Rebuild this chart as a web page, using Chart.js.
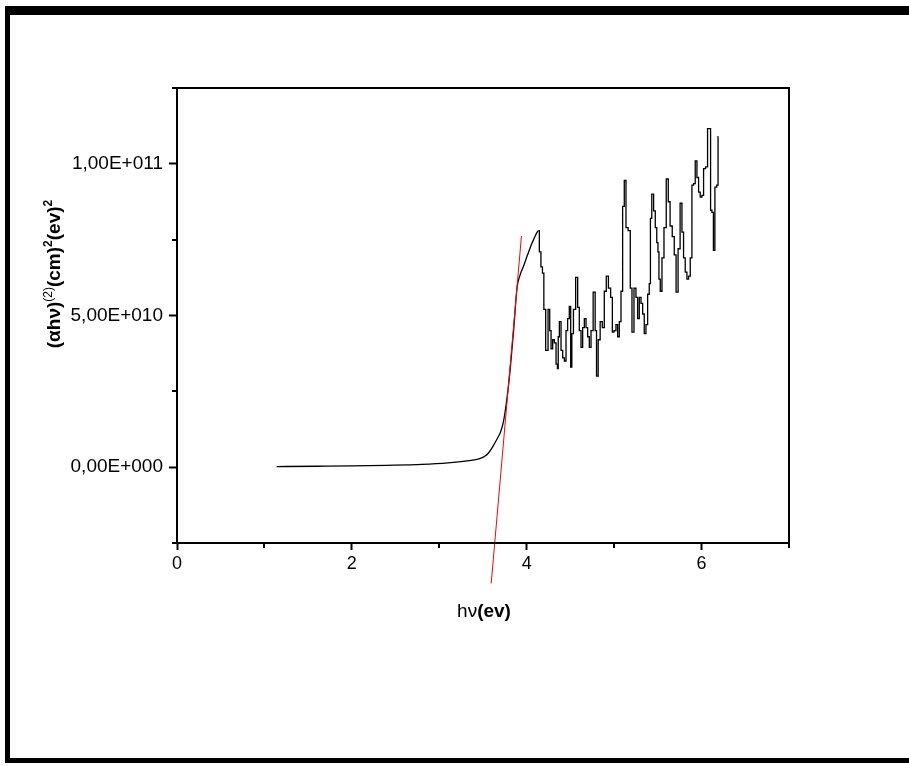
<!DOCTYPE html>
<html>
<head>
<meta charset="utf-8">
<script src="https://cdn.jsdelivr.net/npm/chart.js@4"></script>
<style>
    body { margin: 0; background: #fff; overflow: hidden; }
    #wrap { position: relative; width: 909px; height: 766px; }
    #moldura {
        position: absolute; left: 5px; top: 6px; width: 920px; height: 743px;
        border-top: 9px solid #000; border-left: 5px solid #000; border-bottom: 5px solid #000;
    }
    canvas { position: absolute; left: 0; top: 0; }
</style>
</head>
<body>
<div id="wrap">
    <div id="moldura"></div>
    <canvas id="gapChart" width="909" height="766"></canvas>
</div>
<script>
// Curva de absorção (parte suave), y em unidades de 1E10
const CURVE_X = [1.14, 1.6, 2.0, 2.4, 2.8, 3.1, 3.3, 3.40, 3.47, 3.52, 3.56, 3.60, 3.64, 3.67, 3.70, 3.73, 3.75, 3.78, 3.81, 3.85, 3.89, 3.92, 3.96, 4.01, 4.06, 4.12, 4.135];
const CURVE_Y = [0.02, 0.03, 0.04, 0.06, 0.09, 0.14, 0.2, 0.24, 0.29, 0.36, 0.46, 0.62, 0.82, 0.98, 1.15, 1.45, 1.77, 2.4, 3.2, 4.5, 5.93, 6.3, 6.6, 7.0, 7.38, 7.75, 7.8];

// Parte ruidosa (acima de ~4,1 eV)
const NOISE_X = [4.135, 4.154, 4.171, 4.189, 4.203, 4.231, 4.257, 4.269, 4.288, 4.306, 4.326, 4.345, 4.357, 4.364, 4.383, 4.402, 4.421, 4.440, 4.459, 4.477, 4.497, 4.509, 4.523, 4.546, 4.574, 4.592, 4.611, 4.631, 4.649, 4.669, 4.688, 4.706, 4.726, 4.745, 4.775, 4.791, 4.806, 4.829, 4.851, 4.878, 4.897, 4.923, 4.946, 4.974, 4.985, 5.011, 5.031, 5.049, 5.069, 5.088, 5.106, 5.126, 5.145, 5.175, 5.194, 5.214, 5.240, 5.259, 5.278, 5.297, 5.317, 5.335, 5.354, 5.374, 5.392, 5.411, 5.419, 5.442, 5.461, 5.480, 5.495, 5.507, 5.518, 5.537, 5.557, 5.583, 5.609, 5.629, 5.651, 5.678, 5.697, 5.720, 5.743, 5.766, 5.785, 5.803, 5.823, 5.842, 5.861, 5.880, 5.899, 5.918, 5.937, 5.957, 5.975, 5.994, 6.014, 6.032, 6.059, 6.078, 6.097, 6.109, 6.128, 6.143, 6.162, 6.185, 6.192];
const NOISE_Y = [7.8, 7.1, 6.6, 6.4, 5.2, 3.85, 5.2, 4.5, 3.9, 4.2, 4.1, 3.4, 3.25, 4.3, 4.8, 3.85, 3.6, 3.5, 4.5, 4.9, 5.3, 3.3, 4.4, 5.2, 6.26, 5.27, 4.5, 3.95, 4.6, 4.9, 4.6, 4.3, 3.95, 4.5, 5.77, 4.5, 3.0, 4.2, 4.8, 4.6, 5.8, 6.3, 5.9, 5.6, 4.45, 4.5, 4.7, 4.3, 4.8, 5.8, 8.6, 9.45, 7.9, 7.8, 5.9, 4.45, 5.9, 5.6, 4.9, 5.6, 5.4, 5.05, 4.4, 4.7, 5.7, 6.05, 8.2, 9.0, 8.45, 7.9, 7.4, 7.1, 6.2, 5.8, 6.9, 7.9, 9.5, 8.75, 7.95, 7.6, 7.0, 5.77, 7.2, 8.7, 7.75, 6.9, 6.43, 6.2, 6.3, 6.9, 9.3, 9.35, 10.1, 9.55, 9.07, 8.9, 8.96, 9.84, 9.9, 11.16, 11.16, 8.47, 8.4, 7.15, 9.23, 9.3, 10.9];

// Reta de ajuste (Tauc) - extremos
const FIT_X = [3.594, 3.94];
const FIT_Y = [-3.83, 7.62];

const UNIT = 1e10;

// Eixos
const X_TICKS = [0, 2, 4, 6];
const X_MINOR = [1, 3, 5, 7];
const Y_TICKS = [0, 5e10, 1e11];
const Y_LABELS = ['0,00E+000', '5,00E+010', '1,00E+011'];
const Y_MINOR = [-2.5e10, 2.5e10, 7.5e10, 1.25e11];

const FONT = "'Liberation Sans', Arial, sans-serif";

function toPoints(xs, ys) {
    return xs.map((x, i) => ({ x: x, y: ys[i] * UNIT }));
}

// Moldura, ticks menores e títulos dos eixos
const framePlugin = {
    id: 'framePlugin',
    afterDraw(chart) {
        const ctx = chart.ctx;
        const a = chart.chartArea;
        const xs = chart.scales.x, ys = chart.scales.y;
        ctx.save();
        ctx.strokeStyle = '#000';
        ctx.lineWidth = 2;
        ctx.strokeRect(a.left, a.top, a.right - a.left, a.bottom - a.top);

        ctx.beginPath();
        X_MINOR.forEach(v => {
            const px = Math.round(xs.getPixelForValue(v));
            ctx.moveTo(px, a.bottom);
            ctx.lineTo(px, a.bottom + 5);
        });
        Y_MINOR.forEach(v => {
            const py = Math.round(ys.getPixelForValue(v));
            ctx.moveTo(a.left, py);
            ctx.lineTo(a.left - 5, py);
        });
        ctx.stroke();

        ctx.fillStyle = '#000';
        ctx.textBaseline = 'alphabetic';

        // Título do eixo Y
        const parts = [
            { t: '(αhν)', f: 'bold 19px ' + FONT, dy: 0 },
            { t: '(2)', f: '12px ' + FONT, dy: -8 },
            { t: '(cm)', f: 'bold 19px ' + FONT, dy: 0 },
            { t: '2', f: 'bold 12px ' + FONT, dy: -8 },
            { t: '(ev)', f: 'bold 19px ' + FONT, dy: 0 },
            { t: '2', f: 'bold 12px ' + FONT, dy: -8 }
        ];
        let total = 0;
        parts.forEach(p => { ctx.font = p.f; p.w = ctx.measureText(p.t).width; total += p.w; });
        ctx.translate(60, 274);
        ctx.rotate(-Math.PI / 2);
        let cx = -total / 2;
        parts.forEach(p => {
            ctx.font = p.f;
            ctx.fillText(p.t, cx, p.dy);
            cx += p.w;
        });
        ctx.setTransform(1, 0, 0, 1, 0, 0);

        // Título do eixo X
        const xp = [
            { t: 'hν', f: '19px ' + FONT },
            { t: '(ev)', f: 'bold 19px ' + FONT }
        ];
        let tw = 0;
        xp.forEach(p => { ctx.font = p.f; p.w = ctx.measureText(p.t).width; tw += p.w; });
        let x0 = 484 - tw / 2;
        xp.forEach(p => {
            ctx.font = p.f;
            ctx.fillText(p.t, x0, 617);
            x0 += p.w;
        });
        ctx.restore();
    }
};

document.addEventListener('DOMContentLoaded', function() {
    const ctx = document.getElementById('gapChart').getContext('2d');
    new Chart(ctx, {
        type: 'line',
        data: {
            datasets: [
                {
                    data: toPoints(FIT_X, FIT_Y),
                    borderColor: '#ff0000',
                    borderWidth: 1,
                    pointRadius: 0,
                    clip: false,
                    order: 0
                },
                {
                    data: toPoints(CURVE_X, CURVE_Y),
                    borderColor: '#000',
                    borderWidth: 1.3,
                    pointRadius: 0,
                    cubicInterpolationMode: 'monotone',
                    order: 1
                },
                {
                    data: toPoints(NOISE_X, NOISE_Y),
                    borderColor: '#000',
                    borderWidth: 1.3,
                    pointRadius: 0,
                    stepped: 'middle',
                    order: 1
                }
            ]
        },
        options: {
            responsive: false,
            animation: false,
            devicePixelRatio: 1,
            layout: { padding: { top: 88, right: 120, left: 0, bottom: 0 } },
            plugins: { legend: { display: false }, tooltip: { enabled: false } },
            scales: {
                x: {
                    type: 'linear',
                    min: 0,
                    max: 7,
                    afterBuildTicks: s => { s.ticks = X_TICKS.map(v => ({ value: v })); },
                    afterFit: s => { s.height = 223; },
                    grid: { display: true, drawOnChartArea: false, drawTicks: true, tickLength: 7, tickWidth: 2, tickColor: '#000' },
                    border: { display: true, color: '#000', width: 2 },
                    ticks: {
                        autoSkip: false, maxRotation: 0, padding: 3,
                        color: '#000', font: { family: FONT, size: 18 },
                        callback: v => String(v)
                    }
                },
                y: {
                    type: 'linear',
                    min: -2.5e10,
                    max: 1.25e11,
                    afterBuildTicks: s => { s.ticks = Y_TICKS.map(v => ({ value: v })); },
                    afterFit: s => { s.width = 177; },
                    grid: { display: true, drawOnChartArea: false, drawTicks: true, tickLength: 8, tickWidth: 2, tickColor: '#000' },
                    border: { display: true, color: '#000', width: 2 },
                    ticks: {
                        autoSkip: false, padding: 6,
                        color: '#000', font: { family: FONT, size: 19 },
                        callback: v => Y_LABELS[Y_TICKS.indexOf(v)]
                    }
                }
            }
        },
        plugins: [framePlugin]
    });
});
</script>
</body>
</html>
